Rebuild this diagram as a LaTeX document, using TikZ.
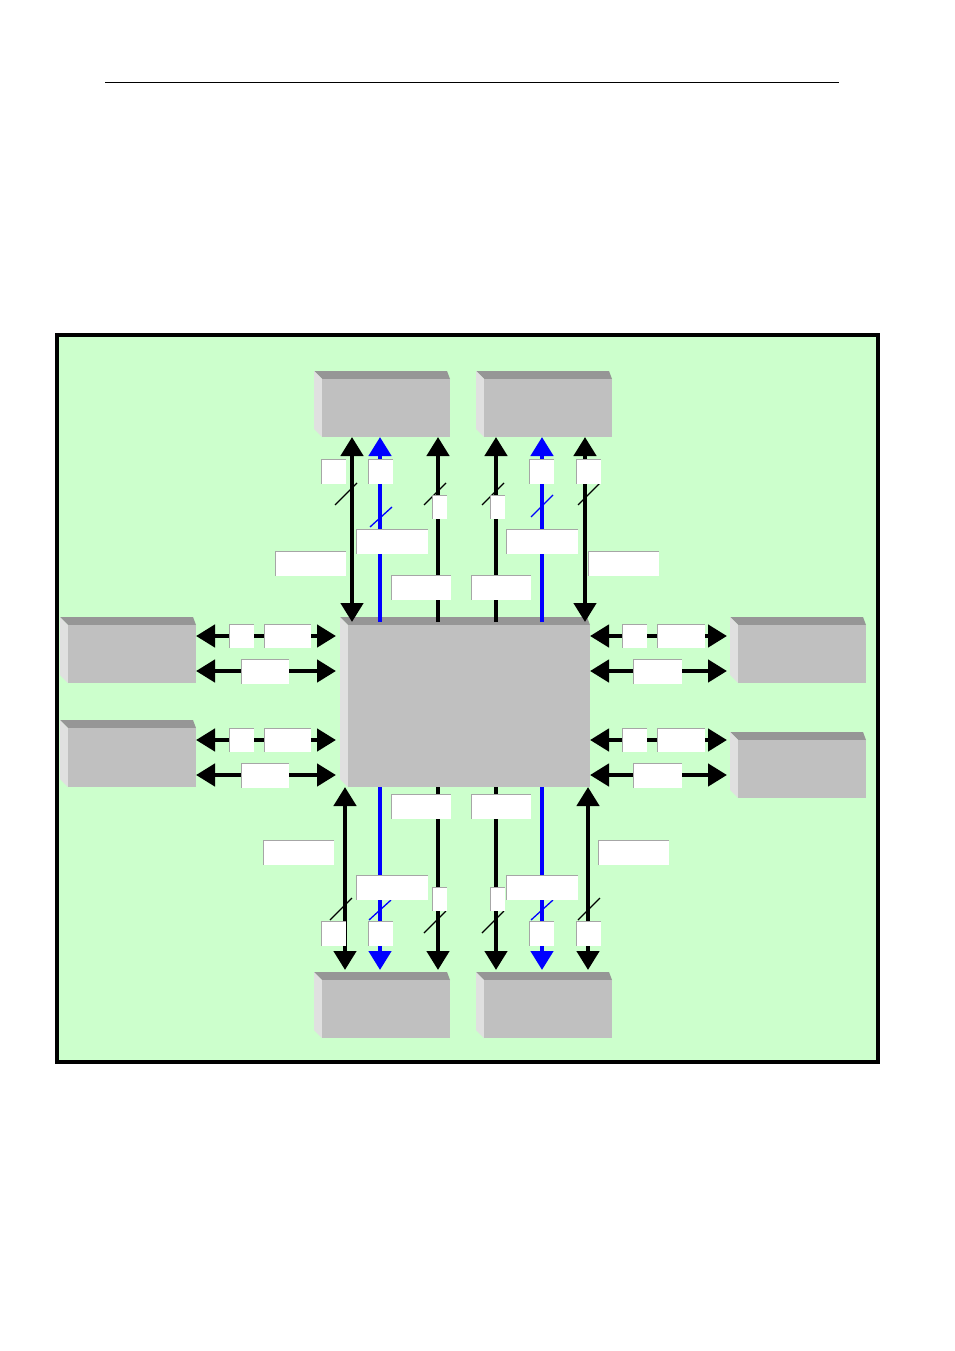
\documentclass[tikz,border=0pt]{standalone}
\usetikzlibrary{arrows.meta}
\definecolor{bg}{HTML}{CCFFCC}
\definecolor{fr}{HTML}{C0C0C0}
\definecolor{tp}{HTML}{969696}
\definecolor{lf}{HTML}{E0E0E0}
\tikzset{
  ar/.style={line width=4.5pt,-{Triangle[length=19pt,width=22pt]}},
  dar/.style={line width=4.5pt,{Triangle[length=19pt,width=22pt]}-{Triangle[length=19pt,width=22pt]}},
  sl/.style={line width=1.3pt}
}
\newcommand{\blk}[4]{%
  \fill[tp] (#1-8,#2-8) -- (#3-3,#2-8) -- (#3,#2) -- (#1,#2) -- cycle;
  \fill[lf] (#1-8,#2-8) -- (#1,#2) -- (#1,#4) -- (#1-8,#4-8) -- cycle;
  \fill[fr] (#1,#2) rectangle (#3,#4);}
\newcommand{\lb}[4]{%
  \fill[gray!70] (#1-1.5,#2-1.5) rectangle (#3,#4);
  \fill[white] (#1,#2) rectangle (#3,#4);}
\begin{document}
\begin{tikzpicture}[x=1pt,y=-1pt]
\useasboundingbox (0,0) rectangle (954,1351);
\draw[line width=0.7pt] (105,82) -- (839,82);
\draw[line width=3.5pt,fill=bg] (57,335) rectangle (878,1062);
% blocks
\blk{322}{379}{450}{437}
\blk{484}{379}{612}{437}
\blk{322}{980}{450}{1038}
\blk{484}{980}{612}{1038}
\blk{68}{625}{196}{683}
\blk{68}{728}{196}{787}
\blk{738}{625}{866}{683}
\blk{738}{740}{866}{798}
\blk{348}{625}{590}{787}
\coordinate (t1a) at (352,437); \coordinate (t1b) at (352,622);
\coordinate (t2a) at (380,437); \coordinate (t2b) at (380,622);
\coordinate (t3a) at (438,437); \coordinate (t3b) at (438,622);
\coordinate (t4a) at (496,437); \coordinate (t4b) at (496,622);
\coordinate (t5a) at (542,437); \coordinate (t5b) at (542,622);
\coordinate (t6a) at (585,437); \coordinate (t6b) at (585,622);
\coordinate (b1a) at (345,787); \coordinate (b1b) at (345,970);
\coordinate (b2a) at (380,787); \coordinate (b2b) at (380,970);
\coordinate (b3a) at (438,787); \coordinate (b3b) at (438,970);
\coordinate (b4a) at (496,787); \coordinate (b4b) at (496,970);
\coordinate (b5a) at (542,787); \coordinate (b5b) at (542,970);
\coordinate (b6a) at (588,787); \coordinate (b6b) at (588,970);
\draw[dar] (t1a) -- (t1b);
\draw[ar,blue] (t2b) -- (t2a);
\draw[ar] (t3b) -- (t3a);
\draw[ar] (t4b) -- (t4a);
\draw[ar,blue] (t5b) -- (t5a);
\draw[dar] (t6a) -- (t6b);
\draw[dar] (b1a) -- (b1b);
\draw[ar,blue] (b2a) -- (b2b);
\draw[ar] (b3a) -- (b3b);
\draw[ar] (b4a) -- (b4b);
\draw[ar,blue] (b5a) -- (b5b);
\draw[dar] (b6a) -- (b6b);
% horizontal
\foreach \y in {636,671,740,775}{
  \coordinate (l\y a) at (196,\y); \coordinate (l\y b) at (336,\y);
  \coordinate (r\y a) at (590,\y); \coordinate (r\y b) at (727,\y);
  \draw[dar] (l\y a) -- (l\y b);
  \draw[dar] (r\y a) -- (r\y b);}
% slashes
\draw[sl] (335,505) -- (357,483);
\draw[sl,blue] (370,527) -- (392,507);
\draw[sl] (424,505) -- (446,483);
\draw[sl] (482,505) -- (504,483);
\draw[sl,blue] (531,517) -- (553,495);
\draw[sl] (578,505) -- (600,483);
\draw[sl] (330,920) -- (352,898);
\draw[sl,blue] (369,920) -- (391,900);
\draw[sl] (424,933) -- (446,911);
\draw[sl] (482,933) -- (504,911);
\draw[sl,blue] (531,920) -- (553,900);
\draw[sl] (578,920) -- (600,898);
% labels
\lb{322}{460}{346}{484}\lb{369}{460}{393}{484}\lb{433}{496}{447}{519}
\lb{491}{496}{505}{519}\lb{530}{460}{554}{484}\lb{577}{460}{601}{484}
\lb{357}{530}{428}{554}\lb{507}{530}{578}{554}\lb{276}{552}{346}{576}
\lb{589}{552}{659}{576}\lb{392}{576}{451}{600}\lb{472}{576}{531}{600}
\lb{322}{922}{346}{946}\lb{369}{922}{393}{946}\lb{433}{888}{447}{911}
\lb{491}{888}{505}{911}\lb{530}{922}{554}{946}\lb{577}{922}{601}{946}
\lb{357}{876}{428}{900}\lb{507}{876}{578}{900}\lb{264}{841}{334}{865}
\lb{599}{841}{669}{865}\lb{392}{795}{451}{819}\lb{472}{795}{531}{819}
\foreach \d in {0,104}{
  \lb{230}{625+\d}{254}{648+\d}\lb{265}{625+\d}{311}{648+\d}\lb{242}{660+\d}{289}{684+\d}
  \lb{623}{625+\d}{647}{648+\d}\lb{658}{625+\d}{705}{648+\d}\lb{634}{660+\d}{682}{684+\d}}
\end{tikzpicture}
\end{document}
